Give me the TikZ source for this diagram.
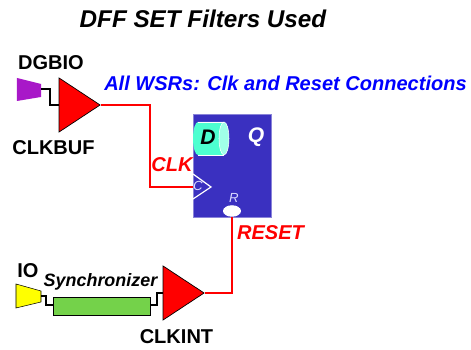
\documentclass[tikz,border=0pt]{standalone}
\usepackage{fontspec}
\setmainfont{Liberation Sans}
\usetikzlibrary{shapes.geometric}
\definecolor{padpurple}{HTML}{A818C8}
\definecolor{padyellow}{HTML}{FFFF00}
\definecolor{flopblue}{HTML}{3A30C0}
\definecolor{flopteal}{HTML}{4DFFD0}
\definecolor{floppale}{HTML}{A0FFE8}
\definecolor{syncgreen}{HTML}{74D24A}
\tikzset{
	buf/.style={isosceles triangle, isosceles triangle stretches, draw=black, fill=red, inner sep=0pt, minimum width=1.08cm, minimum height=.82cm, line width=.4pt},
	lbl/.style={font=\fontsize{11.4}{13}\selectfont\bfseries, inner sep=0pt},
	sig/.style={font=\fontsize{11.4}{13}\selectfont\bfseries\itshape, text=red, inner sep=0pt},
	pin/.style={font=\fontsize{7.5}{9}\selectfont\itshape, text=white!85!blue, inner sep=0pt},
	wire/.style={line width=.7pt, black},
	redwire/.style={line width=.9pt, red}
}
\begin{document}
\begin{tikzpicture}[x=.02cm, y=-.02cm]
	\useasboundingbox (0, 0) rectangle (471, 350);
	\fill[white] (0, 0) rectangle (471, 350);

	\coordinate (A) at (17, 78);
	\coordinate (B) at (41, 84);
	\coordinate (C) at (41, 97);
	\coordinate (D) at (17, 101);
	\coordinate (E) at (16, 284);
	\coordinate (F) at (41, 291);
	\coordinate (G) at (41, 302);
	\coordinate (H) at (16, 308);
	\coordinate (padone) at (41, 89);
	\coordinate (padtwo) at (41, 296);
	\fill[padpurple] (A) -- (B) -- (C) -- (D) -- cycle;
	\draw[fill=padyellow, line width=.3pt] (E) -- (F) -- (G) -- (H) -- cycle;

	\node[buf, anchor=apex] (clkbuf) at (101, 105) {};
	\node[buf, anchor=apex] (clkint) at (205, 293) {};
	\node[draw=black, fill=syncgreen, line width=.4pt, inner sep=0pt, minimum width=1.94cm, minimum height=.36cm] (sync) at (101.5, 306) {};
	\node[fill=flopblue, draw=flopblue!60!white, line width=.3pt, inner sep=0pt, minimum width=1.56cm, minimum height=2.06cm] (dff) at (232, 165.5) {};

	\fill[flopteal] (198, 122) -- (224, 122) -- (224, 155) -- (198, 155) arc[start angle=90, end angle=270, x radius=5, y radius=16.5] -- cycle;
	\draw[white, line width=.3pt, fill=floppale] (224, 138.5) ellipse[x radius=5, y radius=16.5];
	\draw[white, line width=.3pt] (224, 122) -- (198, 122);
	\draw[white, line width=.3pt] (224, 155) -- (198, 155);

	\coordinate (P) at (193, 174);
	\coordinate (Q) at (211, 187);
	\coordinate (R) at (193, 199);
	\draw[white, line width=.7pt] (P) -- (Q) -- (R);
	\node[ellipse, fill=white, inner sep=0pt, minimum width=.36cm, minimum height=.23cm] (rstpin) at (232, 211) {};

	\draw[wire] (padone) -- (50, 89) -- (50, 105) -- (clkbuf.left corner |- 0, 105);
	\draw[wire] (padtwo) -- (46, 296) -- (46, 305) -- (sync.west |- 0, 305);
	\draw[wire] (sync.east |- 0, 305) -- (157, 305) -- (157, 293) -- (clkint.left corner |- 0, 293);
	\draw[redwire] (clkbuf.apex) -- (150, 105) -- (150, 187) -- (193, 187);
	\draw[redwire] (clkint.apex) -- (232, 293) -- (rstpin.south);

	\node[font=\fontsize{13.8}{16}\selectfont\bfseries\itshape, inner sep=0pt] (title) at (203, 19) {DFF SET Filters Used};
	\node[font=\fontsize{11.4}{14}\selectfont\bfseries\itshape, text=blue, inner sep=0pt] (wsrs) at (285.5, 83) {All WSRs: Clk and Reset Connections};
	\node[lbl] (dgbio) at (51, 63) {DGBIO};
	\node[lbl] (bufname) at (53.5, 148) {CLKBUF};
	\node[lbl] (ioname) at (28, 271) {IO};
	\node[lbl] (intname) at (176.5, 337) {CLKINT};
	\node[font=\fontsize{10.2}{12}\selectfont\bfseries\itshape, inner sep=0pt] (syncname) at (100.5, 282) {Synchronizer};
	\node[sig] (clkname) at (172, 165) {CLK};
	\node[sig] (rstname) at (270.5, 233) {RESET};
	\node[font=\fontsize{12}{14}\selectfont\bfseries\itshape, inner sep=0pt] (dname) at (208, 137) {D};
	\node[font=\fontsize{12}{14}\selectfont\bfseries\itshape, text=white, inner sep=0pt] (qname) at (256, 137) {Q};
	\node[pin] (cname) at (198, 186) {C};
	\node[pin] (rname) at (234, 198) {R};
\end{tikzpicture}
\end{document}
